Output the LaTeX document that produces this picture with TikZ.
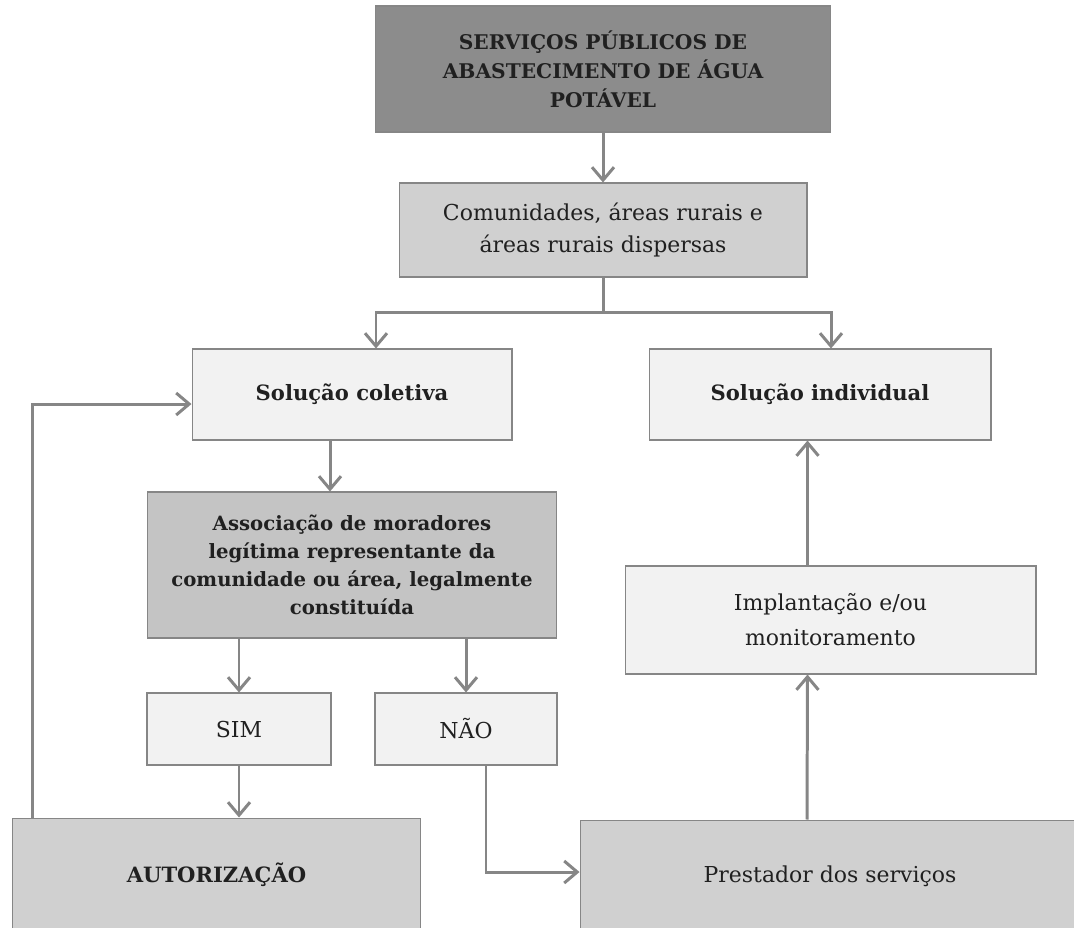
\documentclass[tikz,border=0pt]{standalone}
\usepackage{fontspec}
\setmainfont{DejaVu Serif}
\usetikzlibrary{arrows.meta,calc}
\definecolor{escuro}{HTML}{8C8C8C}
\definecolor{medio}{HTML}{C4C4C4}
\definecolor{claro}{HTML}{D0D0D0}
\definecolor{palido}{HTML}{F2F2F2}
\definecolor{traco}{HTML}{868686}
\definecolor{texto}{HTML}{202020}
\tikzset{bloco/.style={draw=traco,line width=.6pt,align=center,inner sep=0pt,text=texto,font=\fontsize{12.5}{18}\selectfont},negrito/.style={font=\fontsize{12}{17}\selectfont\bfseries},seta/.style={-{Straight Barb[length=2.6mm,width=4.4mm]},line width=1.7pt,draw=traco}}
\begin{document}
\begin{tikzpicture}[x=.02cm,y=-.02cm]
\useasboundingbox (0,0) rectangle (1074,927);\clip (0,0) rectangle (1074,927);
\node[bloco,fill=escuro,minimum width=9.12cm,minimum height=2.52cm,font=\fontsize{11.5}{16.5}\selectfont\bfseries] (topo) at (603,69) {SERVIÇOS PÚBLICOS DE\\ABASTECIMENTO DE ÁGUA\\POTÁVEL};
\node[bloco,fill=claro,minimum width=8.16cm,minimum height=1.88cm] (comun) at (603,230) {Comunidades, áreas rurais e\\áreas rurais dispersas};
\node[bloco,negrito,fill=palido,minimum width=6.4cm,minimum height=1.82cm] (coletiva) at (352,394.5) {Solução coletiva};
\node[bloco,negrito,fill=palido,minimum width=6.84cm,minimum height=1.82cm] (individual) at (820,394.5) {Solução individual};
\node[bloco,fill=medio,minimum width=8.2cm,minimum height=2.92cm,font=\fontsize{11.2}{16}\selectfont\bfseries] (assoc) at (352,565) {Associação de moradores\\legítima representante da\\comunidade ou área, legalmente\\constituída};
\node[bloco,fill=palido,minimum width=3.68cm,minimum height=1.44cm] (sim) at (239,729) {SIM};
\node[bloco,fill=palido,minimum width=3.64cm,minimum height=1.44cm] (nao) at (466,729) {NÃO};
\node[bloco,negrito,fill=claro,minimum width=8.18cm,minimum height=2.28cm] (autoriz) at (216.5,875) {AUTORIZAÇÃO};
\node[bloco,fill=palido,minimum width=8.22cm,minimum height=2.16cm,font=\fontsize{12.5}{20}\selectfont] (implant) at (830.5,620) {Implantação e/ou\\monitoramento};
\node[bloco,fill=claro,minimum width=10cm,minimum height=2.24cm] (prestador) at (830,876) {Prestador dos serviços};
\coordinate (ramo) at (603,312);\coordinate (eixo) at ([xshift=-.46cm]implant.north);
\draw[seta] (topo) -- (comun);
\draw[seta] (comun.south) -- (ramo) -| ([xshift=.48cm]coletiva.north);
\draw[seta] (ramo) -| ([xshift=.22cm]individual.north);
\draw[seta] ([xshift=-.44cm]coletiva.south) -- ([xshift=-.44cm]assoc.north);
\draw[seta] (assoc.south -| sim.north) -- (sim.north);
\draw[seta] (assoc.south -| nao.north) -- (nao.north);
\draw[seta] (sim.south) -- (sim.south |- autoriz.north);
\draw[seta] ([xshift=.4cm]nao.south) |- ([yshift=.08cm]prestador.west);
\draw[seta] ([xshift=.42cm]autoriz.north west) |- ([yshift=-.19cm]coletiva.west);
\draw[seta] ([xshift=-.46cm]prestador.north) -- ([xshift=-.46cm]implant.south);
\draw[seta] (eixo) -- (eixo |- individual.south);
\end{tikzpicture}
\end{document}
